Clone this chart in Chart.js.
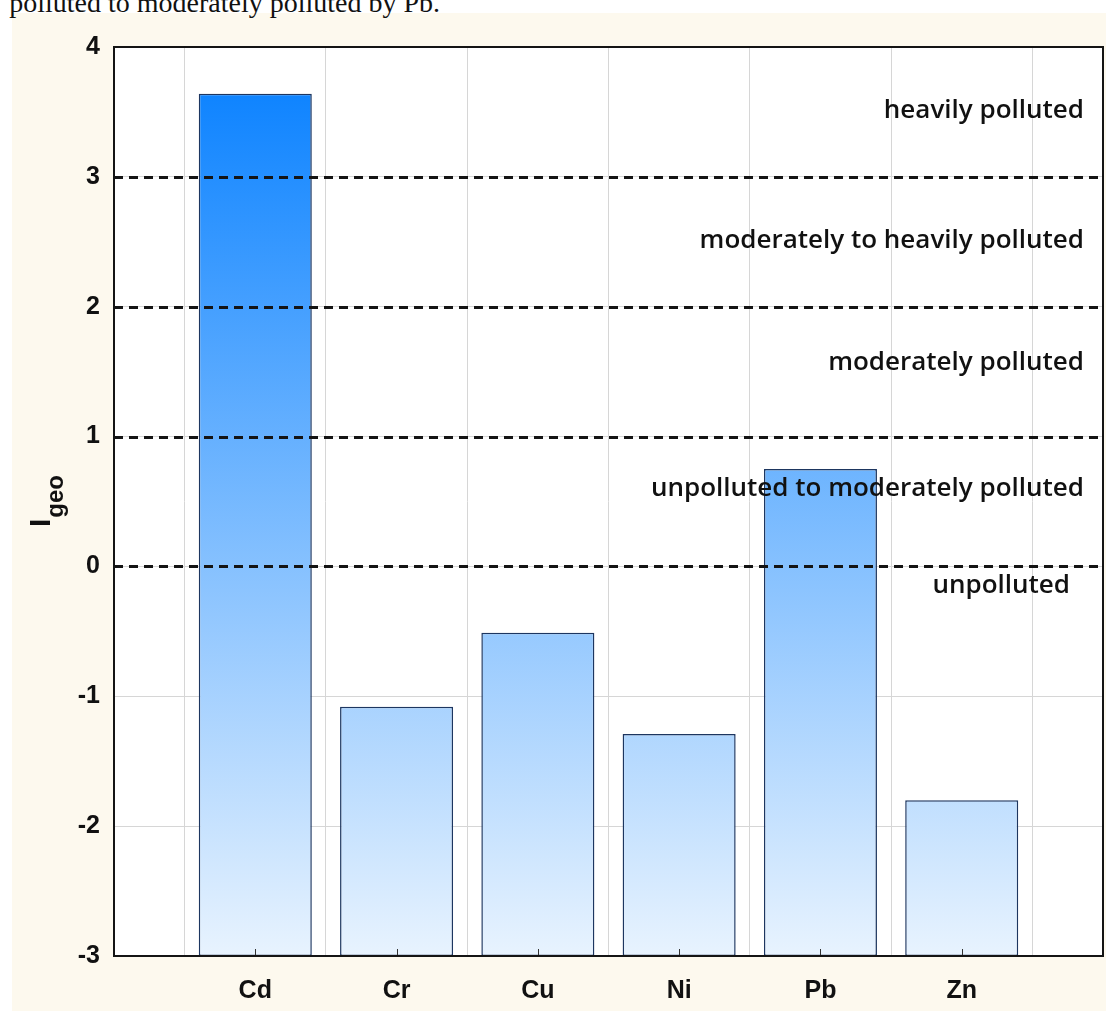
<!DOCTYPE html>
<html>
<head>
<meta charset="utf-8">
<script src="https://cdn.jsdelivr.net/npm/chart.js@4"></script>
<style>
  html, body { margin: 0; padding: 0; background: #ffffff; width: 1106px; height: 1011px; overflow: hidden; }
  #cream { position: absolute; left: 12px; top: 13px; right: 0; bottom: 0; background: #fdf9ee; }
  #caption { position: absolute; right: 666px; top: -11px; font-family: "Liberation Serif", "Times New Roman", serif; font-size: 28px; line-height: 28px; white-space: nowrap; color: #111; }
  #wrap { position: absolute; left: 0; top: 0; width: 1106px; height: 1011px; }
</style>
</head>
<body>
<div id="cream"></div>
<div id="caption">polluted to moderately polluted by Pb.</div>
<div id="wrap"><canvas id="c"></canvas></div>
<script>
const categories = ['Cd', 'Cr', 'Cu', 'Ni', 'Pb', 'Zn'];
const igeoValues = [3.64, -1.08, -0.51, -1.29, 0.75, -1.80];
const yMin = -3;
const yMax = 4;
const classBoundaries = [0, 1, 2, 3];
const classLabels = ['heavily polluted', 'moderately to heavily polluted', 'moderately polluted', 'unpolluted to moderately polluted', 'unpolluted'];
const classLabelLevels = [3.51, 2.51, 1.57, 0.60, -0.15];

// padded category list so categories sit at 1..6 of a 0..7 span
const labels = [''].concat(categories, ['']);
const barData = [null].concat(igeoValues.map(v => [yMin, v]), [null]);

const labelRightInset = [19, 19, 19, 19, 33];

const decorPlugin = {
  id: 'decor',
  beforeDraw(chart) {
    const { ctx, chartArea: a } = chart;
    ctx.save();
    ctx.fillStyle = '#ffffff';
    ctx.fillRect(a.left, a.top, a.right - a.left, a.bottom - a.top);
    ctx.restore();
  },
  afterDatasetsDraw(chart) {
    const { ctx, chartArea: a, scales } = chart;
    const y = scales.y, x = scales.x;
    ctx.save();
    // dashed class boundaries
    ctx.strokeStyle = '#141414';
    ctx.lineWidth = 3;
    ctx.setLineDash([9, 6]);
    classBoundaries.forEach(v => {
      const py = Math.round(y.getPixelForValue(v)) + 0.5;
      ctx.beginPath();
      ctx.moveTo(a.left, py);
      ctx.lineTo(a.right, py);
      ctx.stroke();
    });
    ctx.setLineDash([]);
    // class labels
    ctx.fillStyle = '#111111';
    ctx.font = '600 26px "Open Sans", "DejaVu Sans", sans-serif';
    ctx.textAlign = 'right';
    ctx.textBaseline = 'middle';
    classLabels.forEach((t, i) => {
      ctx.fillText(t, a.right - labelRightInset[i], y.getPixelForValue(classLabelLevels[i]));
    });
    // inward ticks at categories
    ctx.strokeStyle = '#333333';
    ctx.lineWidth = 1;
    categories.forEach((c, i) => {
      const px = Math.round(x.getPixelForValue(i + 1)) + 0.5;
      ctx.beginPath();
      ctx.moveTo(px, a.bottom);
      ctx.lineTo(px, a.bottom - 7);
      ctx.stroke();
    });
    // frame
    ctx.strokeStyle = '#141414';
    ctx.lineWidth = 2;
    ctx.strokeRect(a.left, a.top, a.right - a.left, a.bottom - a.top);
    ctx.restore();
  },
  afterDraw(chart) {
    const { ctx, chartArea: a } = chart;
    ctx.save();
    const cy = (a.top + a.bottom) / 2;
    ctx.translate(40, cy);
    ctx.rotate(-Math.PI / 2);
    ctx.fillStyle = '#111111';
    ctx.textBaseline = 'alphabetic';
    ctx.textAlign = 'left';
    const fI = 'bold 30px "Liberation Sans", Arial, sans-serif';
    const fG = 'bold 24px "Liberation Sans", Arial, sans-serif';
    ctx.font = fI; const wI = ctx.measureText('I').width;
    ctx.font = fG; const wG = ctx.measureText('geo').width;
    const sx = -(wI + wG) / 2;
    ctx.font = fI; ctx.fillText('I', sx, 10);
    ctx.font = fG; ctx.fillText('geo', sx + wI + 1, 23);
    ctx.restore();
  }
};

function barGradient(context) {
  const chart = context.chart;
  const a = chart.chartArea;
  if (!a) return '#7fbdfc';
  const top = chart.scales.y.getPixelForValue(Math.max.apply(null, igeoValues));
  const g = chart.ctx.createLinearGradient(0, top, 0, a.bottom);
  g.addColorStop(0, '#0f84ff');
  g.addColorStop(1, '#e8f3fe');
  return g;
}

new Chart(document.getElementById('c'), {
  type: 'bar',
  data: {
    labels: labels,
    datasets: [{
      data: barData,
      backgroundColor: barGradient,
      borderColor: '#1d3660',
      borderWidth: 1.5,
      borderSkipped: false,
      categoryPercentage: 1.0,
      barPercentage: 0.8
    }]
  },
  options: {
    responsive: true,
    maintainAspectRatio: false,
    animation: false,
    devicePixelRatio: 1,
    layout: { padding: { left: 0, top: 47, right: 3, bottom: 0 } },
    plugins: { legend: { display: false }, tooltip: { enabled: false } },
    scales: {
      x: {
        type: 'category',
        offset: false,
        grid: { color: '#d6d6d6', lineWidth: 1, drawTicks: false },
        border: { display: false },
        ticks: {
          color: '#111111',
          font: { family: '"Liberation Sans", Arial, sans-serif', size: 25, weight: 'bold' },
          padding: 20,
          maxRotation: 0,
          autoSkip: false
        },
        afterFit(s) { s.height = 55; s.paddingLeft = 0; s.paddingRight = 0; }
      },
      y: {
        min: yMin,
        max: yMax,
        grid: { color: '#d6d6d6', lineWidth: 1, drawTicks: false },
        border: { display: false },
        ticks: {
          stepSize: 1,
          color: '#111111',
          font: { family: '"Liberation Sans", Arial, sans-serif', size: 25, weight: 'bold' },
          padding: 14
        },
        afterFit(s) { s.width = 114; s.paddingTop = 0; s.paddingBottom = 0; }
      }
    }
  },
  plugins: [decorPlugin]
});
</script>
</body>
</html>
